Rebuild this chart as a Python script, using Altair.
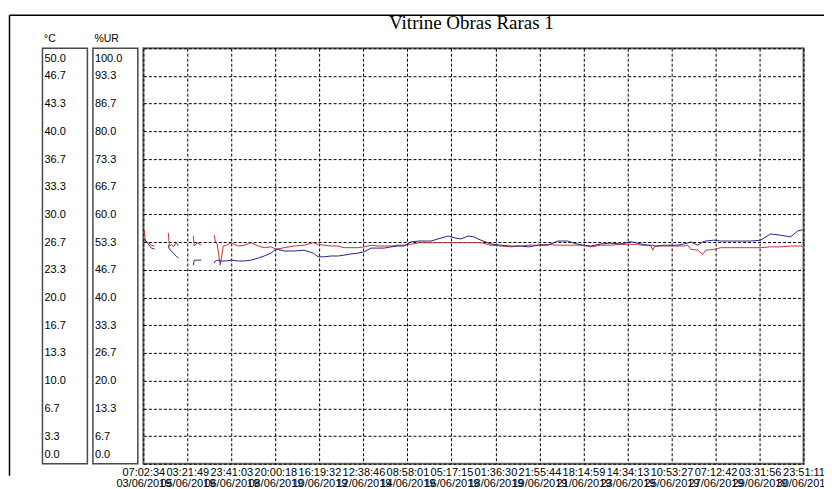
import altair as alt
import pandas as pd

# ---------------- data ----------------
start_time = "2019-06-03 07:02:34"

# hours elapsed since the first reading
hours = [
    1.0, 2.0, 5.0, 8.1, 11.2,
    25.1, 26.2, 28.2, 30.2, 33.2, 35.2,
    50.3, 51.3, 54.3, 58.3,
    71.4, 72.4, 74.4, 77.4, 80.5, 83.5, 88.5, 95.6, 101.6, 108.6,
    115.7, 121.7, 128.7, 133.8, 141.8, 151.9, 161.9, 171.0, 176.0, 182.0,
    189.1, 196.1, 202.2, 209.2, 216.2, 222.3, 229.3, 236.4, 242.4, 249.4,
    256.5, 262.5, 269.6, 277.6, 284.6, 289.7, 296.7, 299.7, 306.8, 314.8,
    319.8, 326.9, 332.9, 340.0, 350.0, 360.1, 370.1, 380.2, 388.2, 397.3,
    407.3, 417.4, 427.5, 433.5, 442.6, 450.6, 460.7, 470.7, 480.8, 490.8,
    497.9, 500.9, 507.9, 511.0, 513.0, 515.0, 518.0, 524.0, 528.0, 534.1,
    538.1, 544.1, 548.2, 551.2, 558.2, 563.3, 566.3, 574.3, 581.4, 584.4,
    591.4, 601.5, 611.5, 621.6, 631.6, 641.7, 651.8, 658.8, 663.8,
]

# temperature, degrees C (red)
temp_c = [
    28.1, 26.8, 26.6, 26.3, 26.2,
    27.8, 26.2, 26.4, 26.1, 26.6, 26.2,
    27.4, 26.2, 26.6, 26.3,
    27.5, 26.8, 26.4, 23.9, 26.2, 26.3, 26.6, 26.2, 26.3, 26.6,
    26.2, 26.0, 26.1, 25.8, 26.0, 26.2, 26.3, 26.6, 26.4, 26.3,
    26.2, 26.2, 26.0, 26.0, 26.0, 26.1, 26.3, 26.2, 26.2, 26.2,
    26.3, 26.3, 26.4, 26.6, 26.6, 26.6, 26.6, 26.6, 26.6, 26.6,
    26.6, 26.6, 26.6, 26.6, 26.3, 26.2, 26.1, 26.2, 26.3, 26.3,
    26.4, 26.3, 26.3, 26.3, 26.3, 26.1, 26.3, 26.3, 26.4, 26.4,
    26.4, 26.3, 26.3, 26.2, 25.7, 26.2, 26.2, 26.2, 26.2, 26.2,
    26.2, 26.2, 26.3, 25.8, 25.7, 25.2, 25.7, 25.8, 26.0, 26.0,
    26.0, 26.0, 26.0, 26.0, 26.1, 26.1, 26.2, 26.2, 26.2,
]

# relative humidity, % (blue)
rh_pct = [
    54.1, 53.6, 52.9, 51.9, 51.7,
    52.6, 51.7, 51.2, 50.7, 50.0, 49.5,
    47.8, 49.0, 49.0, 49.0,
    48.3, 48.8, 49.0, 48.8, 48.8, 48.8, 49.0, 48.8, 48.8, 49.0,
    49.5, 50.0, 50.7, 51.7, 51.2, 51.2, 51.4, 50.7, 49.8, 49.8,
    50.0, 50.0, 50.2, 50.5, 50.7, 51.0, 51.9, 51.9, 51.9, 52.2,
    52.4, 52.4, 53.4, 53.6, 53.6, 53.6, 54.1, 54.3, 54.8, 54.3,
    54.1, 54.8, 54.6, 53.8, 52.9, 52.6, 52.4, 52.4, 52.2, 52.6,
    52.6, 53.6, 53.6, 53.1, 52.6, 52.4, 52.9, 53.1, 52.9, 53.4,
    53.1, 52.9, 52.6, 52.6, 52.6, 52.4, 52.4, 52.6, 52.6, 52.6,
    52.6, 52.9, 53.1, 53.4, 52.6, 53.4, 53.6, 53.8, 53.6, 53.6,
    53.6, 53.6, 53.6, 53.8, 55.3, 55.0, 54.6, 56.0, 56.3,
]

# recording segments (the logger has gaps at the start)
segment = [1] * 5 + [2] * 6 + [3] * 4 + [4] * 89

tick_times = [
    "2019-06-03 07:02:34", "2019-06-05 03:21:49", "2019-06-06 23:41:03",
    "2019-06-08 20:00:18", "2019-06-10 16:19:32", "2019-06-12 12:38:46",
    "2019-06-14 08:58:01", "2019-06-16 05:17:15", "2019-06-18 01:36:30",
    "2019-06-19 21:55:44", "2019-06-21 18:14:59", "2019-06-23 14:34:13",
    "2019-06-25 10:53:27", "2019-06-27 07:12:42", "2019-06-29 03:31:56",
    "2019-06-30 23:51:11",
]
temp_ticks = [0, 10/3, 20/3, 10, 40/3, 50/3, 20, 70/3, 80/3, 30,
              100/3, 110/3, 40, 130/3, 140/3, 50]
rh_ticks = [0, 20/3, 40/3, 20, 80/3, 100/3, 40, 140/3, 160/3, 60,
            200/3, 220/3, 80, 260/3, 280/3, 100]

# ---------------- build ----------------
t0 = pd.Timestamp(start_time)
times = (t0 + pd.to_timedelta(hours, unit="h")).strftime("%Y-%m-%dT%H:%M:%S")
df = pd.DataFrame({"time": list(times), "temp": temp_c, "rh": rh_pct, "segment": segment})


def dt(s):
    t = pd.Timestamp(s)
    return alt.DateTime(year=t.year, month=t.month, date=t.day,
                        hours=t.hour, minutes=t.minute, seconds=t.second)


FONT = "Liberation Sans"
GRID_DASH = [3, 2]
PLOT_H = 416

x_enc = alt.X(
    "time:T",
    scale=alt.Scale(domain=[dt(tick_times[0]), dt(tick_times[-1])]),
    axis=alt.Axis(
        values=[dt(t) for t in tick_times],
        labelExpr="[timeFormat(datum.value, '%H:%M:%S'), timeFormat(datum.value, '%d/%m/%Y')]",
        grid=True, gridDash=GRID_DASH, gridColor="#000000", gridOpacity=1, gridWidth=1,
        ticks=False, domain=False, labelFlush=False, labelOverlap=False,
        labelFont=FONT, labelFontSize=11, labelColor="#000000",
        labelPadding=2.5, labelLineHeight=11, title=None,
    ),
)

red = alt.Chart(df).mark_line(color="#c83232", strokeWidth=1).encode(
    x=x_enc,
    y=alt.Y("temp:Q", scale=alt.Scale(domain=[0, 50], nice=False, zero=False),
            axis=alt.Axis(values=temp_ticks, grid=True, gridDash=GRID_DASH,
                          gridColor="#000000", gridOpacity=1, gridWidth=1,
                          labels=False, ticks=False, domain=False, title=None)),
    detail="segment:N",
)

blue = alt.Chart(df).mark_line(color="#26268c", strokeWidth=1).encode(
    x=x_enc,
    y=alt.Y("rh:Q", scale=alt.Scale(domain=[0, 100], nice=False, zero=False), axis=None),
    detail="segment:N",
)

main = alt.layer(red, blue).resolve_scale(y="independent").properties(
    width=661, height=PLOT_H,
    title=alt.TitleParams("Vitrine Obras Raras 1", font="Liberation Serif", fontSize=19,
                          fontWeight="normal", color="#000000", anchor="middle",
                          baseline="bottom", offset=17, dx=-2, dy=20.5, frame="group"),
    view=alt.ViewBackground(stroke="#6a6a6a", strokeWidth=2),
)

# outer frame of the whole picture (top and left edges), in its own thin cell
one = pd.DataFrame({"k": [0]})
frame_top = alt.Chart(one).mark_rule(color="#000000", strokeWidth=1.5).encode(
    x=alt.value(-26.5), x2=alt.value(797), y=alt.value(-33))
frame_left = alt.Chart(one).mark_rule(color="#000000", strokeWidth=1.5).encode(
    x=alt.value(-26.5), y=alt.value(-33), y2=alt.value(428))
frame = alt.layer(frame_top, frame_left).properties(
    width=1, height=PLOT_H, view=alt.ViewBackground(stroke=None))


def side_box(ticks, top, label):
    d = pd.DataFrame({"v": ticks})
    return alt.Chart(d).mark_tick(opacity=0).encode(
        y=alt.Y("v:Q", scale=alt.Scale(domain=[0, top], nice=False, zero=False),
                axis=alt.Axis(values=ticks, format=".1f", orient="left",
                              labelAlign="left", labelPadding=-1.5,
                              ticks=False, domain=False, grid=False,
                              labelFlush=True, labelFlushOffset=-4,
                              labelOverlap=False, labelFont=FONT, labelFontSize=11,
                              labelColor="#000000", title=None))
    ).properties(
        width=45, height=PLOT_H,
        title=alt.TitleParams(label, anchor="start", font=FONT, fontSize=10.5,
                              fontWeight="normal", color="#000000",
                              baseline="bottom", offset=5, dx=1.5, dy=12, frame="group"),
        view=alt.ViewBackground(stroke="#4a4a4a", strokeWidth=1.5),
    )


box_c = side_box(temp_ticks, 50, "°C")
box_rh = side_box(rh_ticks, 100, "%UR")

chart = alt.hconcat(frame, box_c, box_rh, main, spacing=5.5, bounds="flush").properties(
    padding={"left": 0, "top": 4, "right": -9, "bottom": 0},
    background="#ffffff",
)

chart.save("out.html", embed_options={"renderer": "svg", "actions": False})
